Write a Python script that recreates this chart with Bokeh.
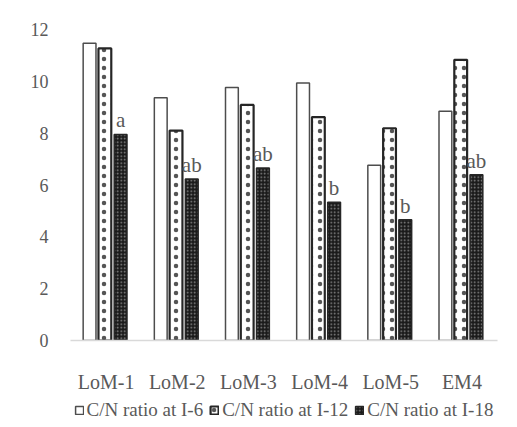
from bokeh.plotting import figure
from bokeh.models import ColumnDataSource, FactorRange, Range1d, Legend, LegendItem
from bokeh.layouts import column
from bokeh.transform import dodge
from bokeh.core.properties import value
from bokeh.embed import file_html
from bokeh.resources import INLINE

categories = ["LoM-1", "LoM-2", "LoM-3", "LoM-4", "LoM-5", "EM4"]
cn_i6 = [11.47, 9.37, 9.76, 9.94, 6.76, 8.85]
cn_i12 = [11.27, 8.10, 9.09, 8.62, 8.19, 10.83]
cn_i18 = [7.95, 6.23, 6.66, 5.33, 4.66, 6.40]
letters = ["a", "ab", "ab", "b", "b", "ab"]
y_ticks = [0, 2, 4, 6, 8, 10, 12]
series_names = ["C/N ratio at I-6", "C/N ratio at I-12", "C/N ratio at I-18"]

FONT = "Liberation Serif"
TXT = "#595959"

src = ColumnDataSource(dict(cat=categories, i6=cn_i6, i12=cn_i12, i18=cn_i18, lab=letters))
xr = FactorRange(*categories, range_padding=0)

p = figure(x_range=xr, y_range=Range1d(0, 12), frame_width=427, frame_height=311,
           output_backend="svg", toolbar_location=None)
p.min_border_left = 70
p.min_border_right = 20
p.min_border_top = 29
p.min_border_bottom = 0
p.outline_line_color = None
p.xgrid.grid_line_color = None
p.ygrid.grid_line_color = None

W = 0.18
OFFS = [-0.232, -0.017, 0.204]
STY = [
    dict(fill_color="white", line_color="#4d4d4d", line_width=1.5),
    dict(fill_color="white", line_color="#262626", line_width=2.2,
         hatch_pattern="dot", hatch_color="#555555", hatch_scale=9, hatch_weight=2),
    dict(fill_color="#1a1a1a", line_color="#262626", line_width=1.5,
         hatch_pattern="dot", hatch_color="#8c8c8c", hatch_scale=3.5, hatch_weight=1.5),
]
cols = ["i6", "i12", "i18"]

for c, o, s in zip(cols, OFFS, STY):
    p.vbar(x=dodge("cat", o, range=xr), top=c, width=W, source=src, **s)

p.text(x=dodge("cat", OFFS[2], range=xr), y="i18", text="lab", source=src,
       text_align="center", text_baseline="alphabetic", y_offset=-14,
       text_font=value(FONT), text_font_size=value("21px"), text_color=TXT)

p.yaxis.ticker = y_ticks
p.yaxis.axis_line_color = None
p.yaxis.major_tick_line_color = None
p.yaxis.minor_tick_line_color = None
p.yaxis.major_label_standoff = 16
p.yaxis.major_label_text_font = FONT
p.yaxis.major_label_text_font_size = "18px"
p.yaxis.major_label_text_color = TXT

p.xaxis.axis_line_color = "#d9d9d9"
p.xaxis.axis_line_width = 1.5
p.xaxis.major_tick_line_color = None
p.xaxis.minor_tick_line_color = None
p.xaxis.major_label_standoff = 24
p.xaxis.major_label_text_font = FONT
p.xaxis.major_label_text_font_size = "20px"
p.xaxis.major_label_text_color = TXT

# legend strip below the chart: hidden renderers only supply the legend swatches
p2 = figure(x_range=FactorRange(*categories), y_range=Range1d(0, 12), width=517, height=30,
            output_backend="svg", toolbar_location=None, min_border=0,
            x_axis_location=None, y_axis_location=None)
p2.grid.grid_line_color = None
p2.outline_line_color = None
rs = []
for c, o, s in zip(cols, OFFS, STY):
    r = p2.vbar(x=dodge("cat", o, range=p2.x_range), top=c, width=W, source=src, **s)
    r.visible = False
    rs.append(r)

legend = Legend(items=[LegendItem(label=n, renderers=[r]) for n, r in zip(series_names, rs)],
                orientation="horizontal", location="center")
legend.label_text_font = FONT
legend.label_text_font_size = "19px"
legend.label_text_color = TXT
legend.border_line_color = None
legend.background_fill_alpha = 0
legend.inactive_fill_alpha = 0
legend.glyph_width = 10
legend.glyph_height = 10
legend.spacing = 6
legend.label_standoff = 3
legend.padding = 0
legend.margin = 0
p2.add_layout(legend)

layout = column(p, p2, spacing=0)
open("out.html", "w").write(file_html(layout, INLINE))
